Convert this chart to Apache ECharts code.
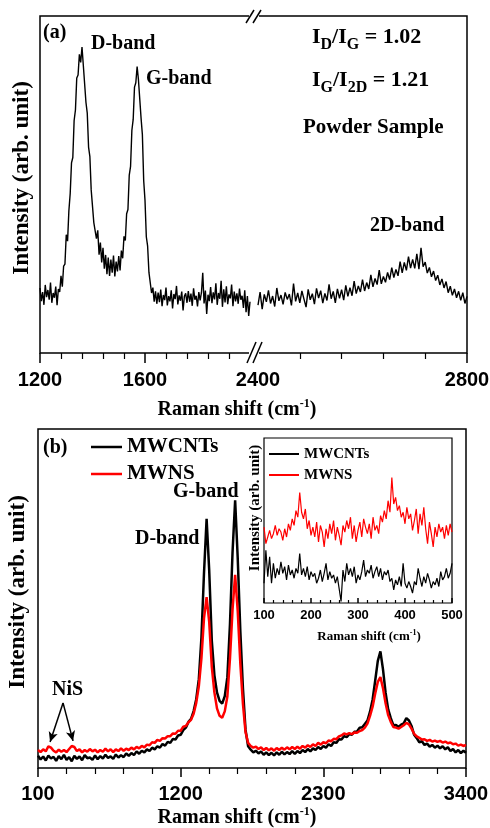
<!DOCTYPE html>
<html>
<head>
<meta charset="utf-8">
<script src="https://cdn.jsdelivr.net/npm/echarts@6/dist/echarts.min.js"></script>
<style>
html, body { margin: 0; padding: 0; background: #fff; }
#chartMain { width: 490px; height: 828px; }
</style>
</head>
<body>
<div id="chartMain"></div>
<script>
// (a) powder sample, left part of the broken axis: 1200..2000, one value every 5 cm-1
var shiftA1Start = 1200, shiftA1Step = 5;
var intensityA1 = [
	19.3, 15.4, 18.1, 14.3, 20.2, 16.6, 18.7, 15.8, 20.9, 14.9,
	17.8, 16.4, 19.7, 14.2, 19.0, 18.1, 22.9, 19.7, 25.8, 26.4,
	35.1, 33.2, 42.2, 47.3, 56.4, 58.0, 69.0, 72.1, 81.6, 82.5,
	88.6, 86.2, 90.8, 85.4, 85.1, 74.4, 71.2, 61.1, 58.3, 48.4,
	47.9, 38.7, 38.9, 33.9, 36.4, 29.2, 32.8, 26.9, 31.2, 25.0,
	29.1, 23.4, 28.3, 22.9, 27.7, 23.8, 28.9, 22.7, 27.1, 24.2,
	28.8, 24.5, 30.4, 28.1, 34.6, 33.4, 41.3, 42.6, 52.8, 55.4,
	66.1, 69.3, 78.9, 80.2, 85.0, 81.1, 80.6, 69.7, 64.8, 51.2,
	45.3, 34.5, 31.7, 23.9, 23.6, 17.8, 19.4, 15.2, 18.3, 14.6,
	17.9, 15.1, 18.8, 13.9, 17.2, 15.7, 19.4, 14.1, 16.9, 15.3,
	18.6, 13.2, 17.5, 16.0, 19.9, 14.4, 17.1, 15.5, 18.2, 12.6,
	16.8, 17.7, 14.9, 18.4, 15.2, 17.6, 14.0, 19.2, 15.8, 17.0,
	13.8, 18.1, 15.6, 17.9, 23.8, 14.7, 18.5, 11.6, 17.3, 15.4,
	19.6, 14.8, 18.0, 15.9, 20.7, 14.3, 17.8, 16.1, 21.4, 13.7,
	18.9, 15.0, 19.8, 14.5, 17.4, 16.2, 20.3, 13.9, 18.2, 15.3,
	17.7, 14.6, 19.1, 15.8, 17.0, 13.4, 18.6, 12.1, 16.9, 11.0,
	15.2
];
// (a) right part: 2400..2800, every 4 cm-1
var shiftA2Start = 2400, shiftA2Step = 4;
var intensityA2 = [
	14.2, 18.1, 13.0, 17.4, 15.2, 18.6, 14.7, 16.9, 13.8, 19.3,
	15.5, 17.2, 14.4, 18.0, 15.9, 17.5, 14.1, 20.6, 15.3, 17.8,
	14.9, 18.4, 16.0, 13.6, 18.9, 15.8, 17.6, 14.5, 19.2, 16.3,
	18.5, 14.8, 17.7, 15.6, 20.4, 16.1, 18.3, 14.9, 19.0, 16.2,
	18.8, 15.7, 20.1, 16.8, 19.4, 17.0, 21.3, 17.6, 19.9, 18.1,
	21.8, 18.4, 20.9, 19.0, 23.2, 19.6, 22.1, 20.3, 24.6, 20.5,
	22.7, 21.0, 23.9, 21.8, 25.3, 22.4, 24.8, 22.9, 27.1, 23.8,
	26.9, 24.5, 28.6, 25.2, 27.8, 25.1, 29.4, 24.9, 31.2, 25.6,
	27.0, 23.7, 25.4, 22.6, 24.3, 21.5, 23.1, 20.2, 22.0, 19.3,
	21.2, 17.9, 19.8, 17.1, 19.0, 16.4, 18.3, 15.6, 17.9, 14.7,
	16.8
];
// (b) full spectra 100..3400, every 20 cm-1
var shiftBStart = 100, shiftBStep = 20;
var mwcnts = [
	3.6, 2.5, 3.4, 2.2, 3.7, 2.8, 3.3, 2.1, 3.5, 2.6,
	3.9, 2.4, 3.2, 2.0, 3.6, 2.7, 3.4, 2.3, 3.8, 2.9,
	3.1, 2.4, 3.7, 2.6, 3.5, 2.8, 3.9, 3.0, 3.4, 2.7,
	4.0, 3.1, 3.8, 3.2, 4.3, 3.6, 4.4, 3.8, 4.9, 4.2,
	5.1, 4.6, 5.5, 5.0, 6.0, 5.5, 6.4, 6.0, 7.1, 6.6,
	7.7, 7.4, 8.6, 8.4, 9.6, 9.8, 11.2, 11.9, 13.6, 14.5,
	16.8, 20.3, 26.2, 38.4, 57.6, 73.5, 58.3, 37.6, 27.4, 22.3,
	19.8, 19.0, 21.2, 26.8, 42.3, 63.7, 79.0, 61.8, 40.4, 23.6,
	11.3, 6.4, 5.4, 4.6, 5.1, 4.3, 4.9, 3.9, 4.6, 3.8,
	4.5, 3.7, 4.6, 3.9, 4.8, 4.0, 4.7, 4.1, 5.0, 4.2,
	5.0, 4.4, 5.3, 4.7, 5.6, 4.9, 5.8, 5.3, 6.2, 5.6,
	6.5, 6.0, 7.0, 6.5, 7.6, 7.4, 8.5, 8.4, 9.4, 9.1,
	10.0, 9.8, 10.7, 10.8, 11.9, 12.0, 13.0, 14.0, 16.6, 20.2,
	25.8, 31.6, 34.4, 29.1, 22.2, 17.3, 14.7, 12.6, 12.7, 12.1,
	12.8, 13.2, 14.7, 14.0, 12.4, 9.8, 8.8, 7.6, 7.9, 6.8,
	7.2, 6.3, 6.8, 6.0, 6.6, 5.8, 6.4, 5.5, 6.1, 5.0,
	5.6, 4.6, 5.3, 4.4, 5.1, 4.5
];
var mwns = [
	5.3, 4.7, 5.5, 4.9, 6.4, 6.0, 5.1, 4.6, 5.4, 4.8,
	5.3, 4.7, 5.6, 6.5, 6.2, 5.0, 5.5, 4.6, 5.3, 4.8,
	5.6, 4.9, 5.4, 4.6, 5.3, 4.8, 5.7, 4.9, 5.5, 4.7,
	5.5, 5.0, 5.8, 5.1, 5.7, 5.3, 6.0, 5.5, 6.2, 5.8,
	6.5, 6.1, 6.9, 6.7, 7.6, 7.4, 8.3, 8.0, 8.8, 8.7,
	9.4, 9.4, 10.2, 10.1, 11.0, 11.0, 12.2, 12.4, 13.5, 14.2,
	16.0, 19.2, 24.1, 32.3, 44.2, 50.4, 43.1, 29.8, 22.3, 17.6,
	15.4, 14.8, 16.7, 21.1, 32.2, 46.8, 57.0, 46.2, 30.8, 19.0,
	10.6, 7.4, 6.5, 6.0, 6.3, 5.6, 6.1, 5.3, 5.9, 5.2,
	5.8, 5.1, 5.9, 5.3, 6.0, 5.4, 6.1, 5.5, 6.2, 5.6,
	6.3, 5.7, 6.5, 6.0, 6.7, 6.2, 7.0, 6.5, 7.4, 6.9,
	7.6, 7.3, 8.1, 7.9, 8.6, 8.5, 9.3, 9.6, 10.2, 9.9,
	10.3, 10.0, 10.5, 10.4, 10.9, 11.2, 11.9, 13.1, 15.4, 18.1,
	22.0, 25.4, 26.8, 23.5, 19.1, 15.6, 13.6, 12.1, 11.9, 11.6,
	12.1, 12.6, 13.3, 12.9, 11.6, 10.1, 9.3, 8.9, 8.4, 8.5,
	8.0, 8.3, 7.8, 8.1, 7.7, 8.0, 7.5, 7.8, 7.3, 7.5,
	7.0, 7.2, 6.6, 6.9, 6.5, 6.8
];
// inset 100..500, every 4 cm-1
var insetStart = 100, insetStep = 4;
var mwcntsInset = [
	12, 32, 16, 28, 12, 24, 15, 21, 17, 25,
	18, 22, 14, 23, 17, 20, 15, 21, 18, 30,
	17, 21, 16, 22, 14, 19, 16, 18, 12, 15,
	20, 13, 18, 24, 14, 19, 15, 17, 12, 16,
	15, 1, 20, 13, 24, 17, 21, 16, 22, 12,
	17, 14, 19, 26, 16, 20, 18, 23, 15, 19,
	22, 16, 21, 14, 19, 17, 20, 13, 15, 8,
	14, 11, 16, 10, 24, 12, 9, 13, 10, 6,
	13, 11, 21, 15, 10, 16, 12, 18, 14, 9,
	13, 11, 15, 10, 19, 14, 16, 21, 15, 18,
	24
];
var mwnsInset = [
	46, 36, 40, 44, 39, 42, 47, 41, 45, 43,
	38, 45, 40, 48, 44, 51, 47, 56, 52, 67,
	55, 51, 57, 45, 50, 41, 46, 40, 49, 37,
	47, 43, 34, 45, 39, 48, 42, 50, 38, 46,
	41, 35, 47, 43, 50, 45, 52, 39, 47, 37,
	44, 49, 40, 51, 46, 42, 48, 39, 52, 44,
	47, 42, 53, 49, 56, 51, 62, 55, 76, 60,
	64, 56, 59, 52, 55, 48, 58, 51, 54, 44,
	50, 57, 42, 54, 47, 58, 45, 36, 49, 42,
	34, 46, 40, 48, 43, 46, 39, 47, 41, 48,
	43
];
// NiS arrows: common tail and two heads, in (shift, intensity)
var nisTail = [293, 19.2];
var nisHeads = [[193, 7.7], [370, 8.0]];

var SERIF = '"Times New Roman", "Liberation Serif", serif';
var SANS = 'Arial, "Liberation Sans", sans-serif';

function toPairs(start, step, arr) {
	return arr.map(function(v, i) { return [start + i * step, v]; });
}

function xAxisOf(grid, min, max, interval, opt) {
	return {
		type: 'value', gridIndex: grid, min: min, max: max, interval: interval,
		axisLine: { show: opt.line, lineStyle: { color: '#000', width: 1.5 } },
		axisTick: { show: true, inside: opt.inside, length: opt.tick, lineStyle: { color: '#000', width: 1.5 } },
		minorTick: { show: true, splitNumber: 5, length: opt.minor, lineStyle: { color: '#000', width: 1.2 } },
		axisLabel: {
			margin: opt.margin, color: '#000', fontFamily: SANS, fontWeight: 'bold', fontSize: opt.font,
			formatter: opt.formatter || function(v) { return String(v); }
		},
		splitLine: { show: false }, minorSplitLine: { show: false }
	};
}

function yAxisOf(grid) {
	return {
		type: 'value', gridIndex: grid, min: 0, max: 100,
		axisLine: { show: false }, axisTick: { show: false }, axisLabel: { show: false },
		splitLine: { show: false }
	};
}

function txt(text, x, y, size) {
	return { type: 'text', x: x, y: y, z: 20, style: { text: text, fill: '#000', font: 'bold ' + size + 'px ' + SERIF, verticalAlign: 'middle' } };
}

function ratioText(text, x, y) {
	return {
		type: 'text', x: x, y: y, z: 20,
		style: {
			text: text, fill: '#000', verticalAlign: 'middle',
			rich: {
				m: { fill: '#000', fontFamily: SERIF, fontWeight: 'bold', fontSize: 22, lineHeight: 32, verticalAlign: 'middle' },
				s: { fill: '#000', fontFamily: SERIF, fontWeight: 'bold', fontSize: 16, lineHeight: 16, verticalAlign: 'bottom' }
			}
		}
	};
}

function shiftTitle(x, y, size) {
	return {
		type: 'text', x: x, y: y, z: 20,
		style: {
			text: '{t|Raman shift (cm}{u|-1}{t|)}', fill: '#000', align: 'center', verticalAlign: 'middle',
			rich: {
				t: { fill: '#000', fontFamily: SERIF, fontWeight: 'bold', fontSize: size, lineHeight: size + 4, verticalAlign: 'middle' },
				u: { fill: '#000', fontFamily: SERIF, fontWeight: 'bold', fontSize: Math.round(size * 0.6), lineHeight: Math.round(size * 0.6), verticalAlign: 'top' }
			}
		}
	};
}

function vTitle(x, y, size) {
	return {
		type: 'text', x: x, y: y, z: 20, rotation: Math.PI / 2,
		style: { text: 'Intensity (arb. unit)', fill: '#000', align: 'center', verticalAlign: 'middle', font: 'bold ' + size + 'px ' + SERIF }
	};
}

function slash(x1, y1, x2, y2) {
	return { type: 'line', z: 22, shape: { x1: x1, y1: y1, x2: x2, y2: y2 }, style: { stroke: '#000', lineWidth: 1.5 } };
}

var nisArrows = nisHeads.map(function(h) {
	return [{ coord: nisTail }, { coord: h }];
});

function lineSeries(name, grid, data, color, width) {
	return {
		name: name, type: 'line', xAxisIndex: grid, yAxisIndex: grid,
		data: data, showSymbol: false, symbol: 'none', silent: true,
		itemStyle: { color: color },
		lineStyle: { color: color, width: width },
		emphasis: { disabled: true }
	};
}

var myChart = echarts.init(document.getElementById('chartMain'));

var blackMain = lineSeries('MWCNTs', 2, toPairs(shiftBStart, shiftBStep, mwcnts), '#000', 2.5);
blackMain.markLine = {
	silent: true, animation: false, symbol: ['none', 'arrow'], symbolSize: [7, 10],
	label: { show: false }, emphasis: { disabled: true },
	lineStyle: { color: '#000', width: 1.5, type: 'solid' },
	data: nisArrows
};

var option = {
	animation: false,
	backgroundColor: '#fff',
	grid: [
		{ left: 40, top: 16, width: 210, height: 337, outerBoundsMode: 'none' },
		{ left: 258, top: 16, width: 209, height: 337, outerBoundsMode: 'none' },
		{ left: 38, top: 429, width: 428, height: 339, outerBoundsMode: 'none', show: true, borderColor: '#000', borderWidth: 1.5 },
		{ left: 264, top: 438, width: 188, height: 165, outerBoundsMode: 'none', show: true, borderColor: '#000', borderWidth: 1.2, backgroundColor: '#fff' }
	],
	xAxis: [
		xAxisOf(0, 1200, 2000, 400, { line: false, inside: false, tick: 10, minor: 6, margin: 17, font: 20,
			formatter: function(v) { return v === 2000 ? '' : String(v); } }),
		xAxisOf(1, 2400, 2800, 400, { line: false, inside: false, tick: 10, minor: 6, margin: 17, font: 20 }),
		xAxisOf(2, 100, 3400, 1100, { line: false, inside: false, tick: 9, minor: 6, margin: 16, font: 20 }),
		xAxisOf(3, 100, 500, 100, { line: false, inside: true, tick: 5, minor: 3, margin: 6, font: 13 })
	],
	yAxis: [yAxisOf(0), yAxisOf(1), yAxisOf(2), yAxisOf(3)],
	legend: [
		{
			data: ['MWCNTs', 'MWNS'], left: 86, top: 431, orient: 'vertical', icon: 'rect',
			itemWidth: 31, itemHeight: 2.5, itemGap: 5, selectedMode: false,
			textStyle: { color: '#000', fontFamily: SERIF, fontWeight: 'bold', fontSize: 21, lineHeight: 22 }
		},
		{
			data: ['MWCNTs', 'MWNS'], left: 264, top: 441, orient: 'vertical', icon: 'rect',
			itemWidth: 30, itemHeight: 2, itemGap: 5, selectedMode: false,
			textStyle: { color: '#000', fontFamily: SERIF, fontWeight: 'bold', fontSize: 15, lineHeight: 16 }
		}
	],
	series: [
		lineSeries('powder', 0, toPairs(shiftA1Start, shiftA1Step, intensityA1), '#000', 1.4),
		lineSeries('powder', 1, toPairs(shiftA2Start, shiftA2Step, intensityA2), '#000', 1.4),
		blackMain,
		lineSeries('MWNS', 2, toPairs(shiftBStart, shiftBStep, mwns), '#ff0000', 2.5),
		lineSeries('MWCNTs', 3, toPairs(insetStart, insetStep, mwcntsInset), '#000', 1.2),
		lineSeries('MWNS', 3, toPairs(insetStart, insetStep, mwnsInset), '#ff0000', 1.2)
	],
	graphic: {
		elements: [
			// frame of panel (a) with the axis break
			{ type: 'rect', z: 18, shape: { x: 40, y: 16, width: 427, height: 337 }, style: { fill: 'none', stroke: '#000', lineWidth: 1.5 } },
			{ type: 'rect', z: 21, shape: { x: 249, y: 12, width: 10, height: 8 }, style: { fill: '#fff' } },
			{ type: 'rect', z: 21, shape: { x: 249, y: 349, width: 10, height: 16 }, style: { fill: '#fff' } },
			slash(246, 23, 254, 10), slash(253, 23, 261, 10),
			slash(247, 363, 256, 342), slash(253, 363, 262, 342),
			// panel (a) text
			txt('(a)', 43, 33, 20),
			txt('D-band', 91, 44, 20),
			txt('G-band', 146, 79, 20),
			ratioText('{m|I}{s|D}{m|/I}{s|G}{m| = 1.02}', 312, 37),
			ratioText('{m|I}{s|G}{m|/I}{s|2D}{m| = 1.21}', 312, 80),
			txt('Powder Sample', 303, 128, 21),
			txt('2D-band', 370, 226, 20),
			vTitle(22, 178, 23),
			shiftTitle(237, 410, 20),
			// panel (b) text
			txt('(b)', 43, 448, 20),
			txt('G-band', 173, 492, 20),
			txt('D-band', 135, 539, 20),
			txt('NiS', 52, 690, 20),
			vTitle(18, 592, 23),
			shiftTitle(237, 818, 20),
			// inset titles
			vTitle(255, 508, 15),
			shiftTitle(369, 637, 13)
		]
	}
};

myChart.setOption(option);
</script>
</body>
</html>
